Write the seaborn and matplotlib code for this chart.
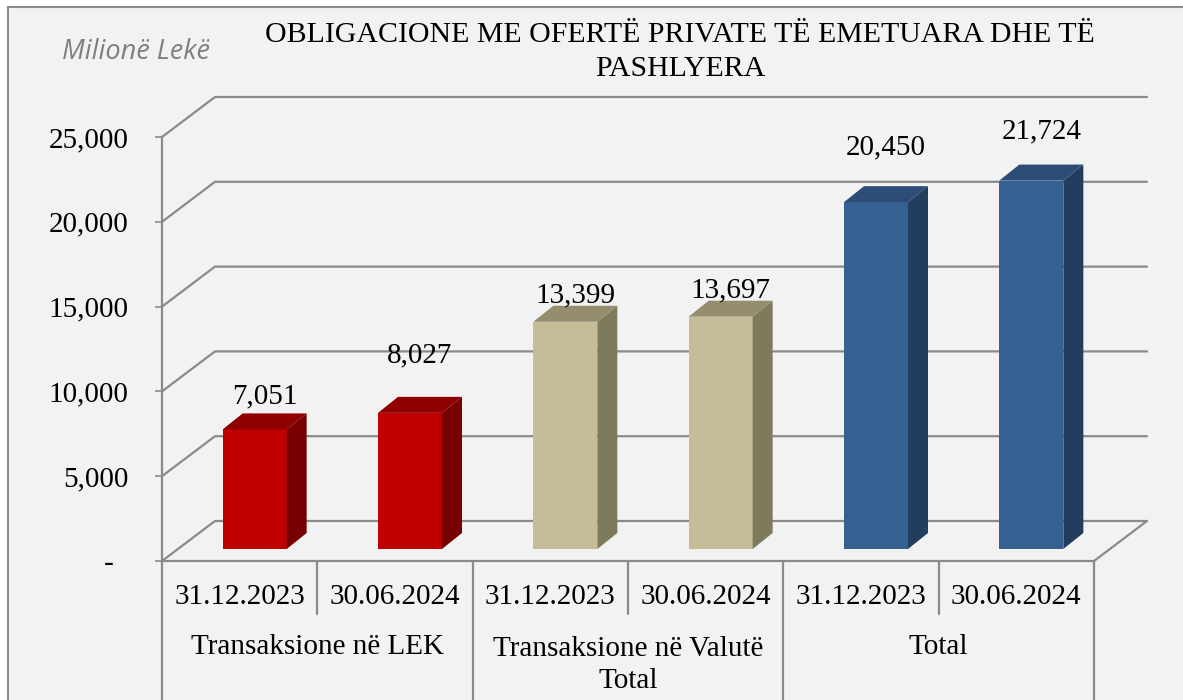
import pandas as pd
import seaborn as sns
import matplotlib.pyplot as plt
from matplotlib.patches import Polygon, Rectangle
from matplotlib.transforms import offset_copy, blended_transform_factory

# data
groups = ["Transaksione në LEK", "Transaksione në Valutë\nTotal", "Total"]
dates = ["31.12.2023", "30.06.2024"]
values = [7051, 8027, 13399, 13697, 20450, 21724]
yticks = [0, 5000, 10000, 15000, 20000, 25000]
ytick_labels = ["-  ", "5,000", "10,000", "15,000", "20,000", "25,000"]
title = "OBLIGACIONE ME OFERTË PRIVATE TË EMETUARA DHE TË\nPASHLYERA"
unit_label = "Milionë Lekë"

front_colors = ["#C00000", "#C4BD97", "#376092"]
top_colors = ["#8F0000", "#948E6F", "#2C4D77"]
side_colors = ["#780000", "#7E7A5C", "#223D5E"]
grid_c = "#8A8A8A"

df = pd.DataFrame({
    "group": [g for g in groups for d in dates],
    "date": dates * len(groups),
    "value": values,
})
df["key"] = df["group"] + "|" + df["date"]

sns.set_theme(style="white")
plt.rcParams["font.family"] = ["Liberation Serif", "DejaVu Serif"]
plt.rcParams["text.color"] = "black"

W, H = 1183, 700
fig = plt.figure(figsize=(W / 100, H / 100), dpi=100, facecolor="white")
fig.patches.append(Rectangle((8 / W, -0.05), 1.1, 1 - 7 / H + 0.05, transform=fig.transFigure,
                             facecolor="#F2F2F2", edgecolor="#8C8C8C", lw=1.5, zorder=-5))

ax = fig.add_axes([162 / W, 139 / H, 932 / W, 424 / H])
ax.set_zorder(2)
ax.patch.set_alpha(0)

sns.barplot(data=df, x="key", y="value", hue="group", palette=front_colors, dodge=False,
            width=0.412, saturation=1, legend=False, ax=ax, zorder=3, linewidth=0)

n = len(values)
ax.set_xlim(-0.5, n - 0.5)
ax.set_ylim(0, 25000)

# pixel -> data conversions for the pseudo 3D depth
px_x = 932 / n
px_y = 424 / 25000
wall_dx, wall_dy = 53 / px_x, 40 / px_y
bar_dx, bar_dy = 20 / px_x, 16 / px_y
bar_tr = offset_copy(ax.transData, fig=fig, x=15, y=12, units="dots")

# back wall gridlines + floor
for v in yticks:
    ax.plot([-0.5, -0.5 + wall_dx, n - 0.5 + wall_dx], [v, v + wall_dy, v + wall_dy],
            color=grid_c, lw=1.6, clip_on=False, zorder=1)
ax.plot([n - 0.5, n - 0.5 + wall_dx], [0, wall_dy], color=grid_c, lw=1.6, clip_on=False, zorder=1)

# 3D sides, tops and value labels
label_lift = [10, 34, 3, 3, 32, 26]
bars = sorted(ax.patches, key=lambda p: p.get_x())
for i, p in enumerate(bars):
    gi = i // 2
    x0, w, h = p.get_x(), p.get_width(), p.get_height()
    p.set_transform(bar_tr)
    p.set_clip_on(False)
    side = Polygon([(x0 + w, 0), (x0 + w + bar_dx, bar_dy), (x0 + w + bar_dx, h + bar_dy), (x0 + w, h)],
                   closed=True, transform=bar_tr, facecolor=side_colors[gi], lw=0, zorder=3, clip_on=False)
    top = Polygon([(x0, h), (x0 + bar_dx, h + bar_dy), (x0 + w + bar_dx, h + bar_dy), (x0 + w, h)],
                  closed=True, transform=bar_tr, facecolor=top_colors[gi], lw=0, zorder=3, clip_on=False)
    ax.add_patch(side)
    ax.add_patch(top)
    lab_tr = offset_copy(ax.transData, fig=fig, x=15, y=12 + label_lift[i], units="dots")
    ax.text(x0 + w / 2 + bar_dx / 2, h + bar_dy, f"{values[i]:,}", transform=lab_tr,
            ha="center", va="baseline", fontsize=21, color="black", zorder=4)

ax.set_xlim(-0.5, n - 0.5)
ax.set_ylim(0, 25000)

# axes styling
for s in ["top", "right"]:
    ax.spines[s].set_visible(False)
for s in ["left", "bottom"]:
    ax.spines[s].set_color(grid_c)
    ax.spines[s].set_linewidth(1.6)
ax.set_yticks(yticks, ytick_labels)
ax.tick_params(axis="y", left=True, length=5, width=1.2, color=grid_c, pad=19, labelsize=21,
               direction="out", labelcolor="black")
ax.set_xticks([])
ax.set_xlabel("")
ax.set_ylabel("")

# category axis with group separators
tr_b = blended_transform_factory(ax.transData, ax.transAxes)
for xb in [-0.5, 1.5, 3.5, 5.5]:
    ax.plot([xb, xb], [0, -0.5], transform=tr_b, color=grid_c, lw=1.6, clip_on=False)
for xb in [0.5, 2.5, 4.5]:
    ax.plot([xb, xb], [0, -53 / 424], transform=tr_b, color=grid_c, lw=1.6, clip_on=False)
for i in range(n):
    ax.text(i, (561 - 597) / 424, df["date"][i], transform=tr_b, ha="center", va="center",
            fontsize=21, color="black")
for gi, g in enumerate(groups):
    yc = (561 - 647) / 424 if "\n" not in g else (561 - 665) / 424
    ax.text(2 * gi + 0.5, yc, g, transform=tr_b, ha="center", va="center", fontsize=21,
            linespacing=1.25, color="black")

fig.text(680 / W, 1 - 52 / H, title, ha="center", va="center", fontsize=21.5, linespacing=1.4,
         color="black")
fig.text(136 / W, 1 - 52 / H, unit_label, ha="center", va="center", fontsize=19.5,
         family=["Open Sans", "DejaVu Sans"], style="italic", color="#7F7F7F")

fig.savefig("out.png", dpi=100, facecolor="white")
